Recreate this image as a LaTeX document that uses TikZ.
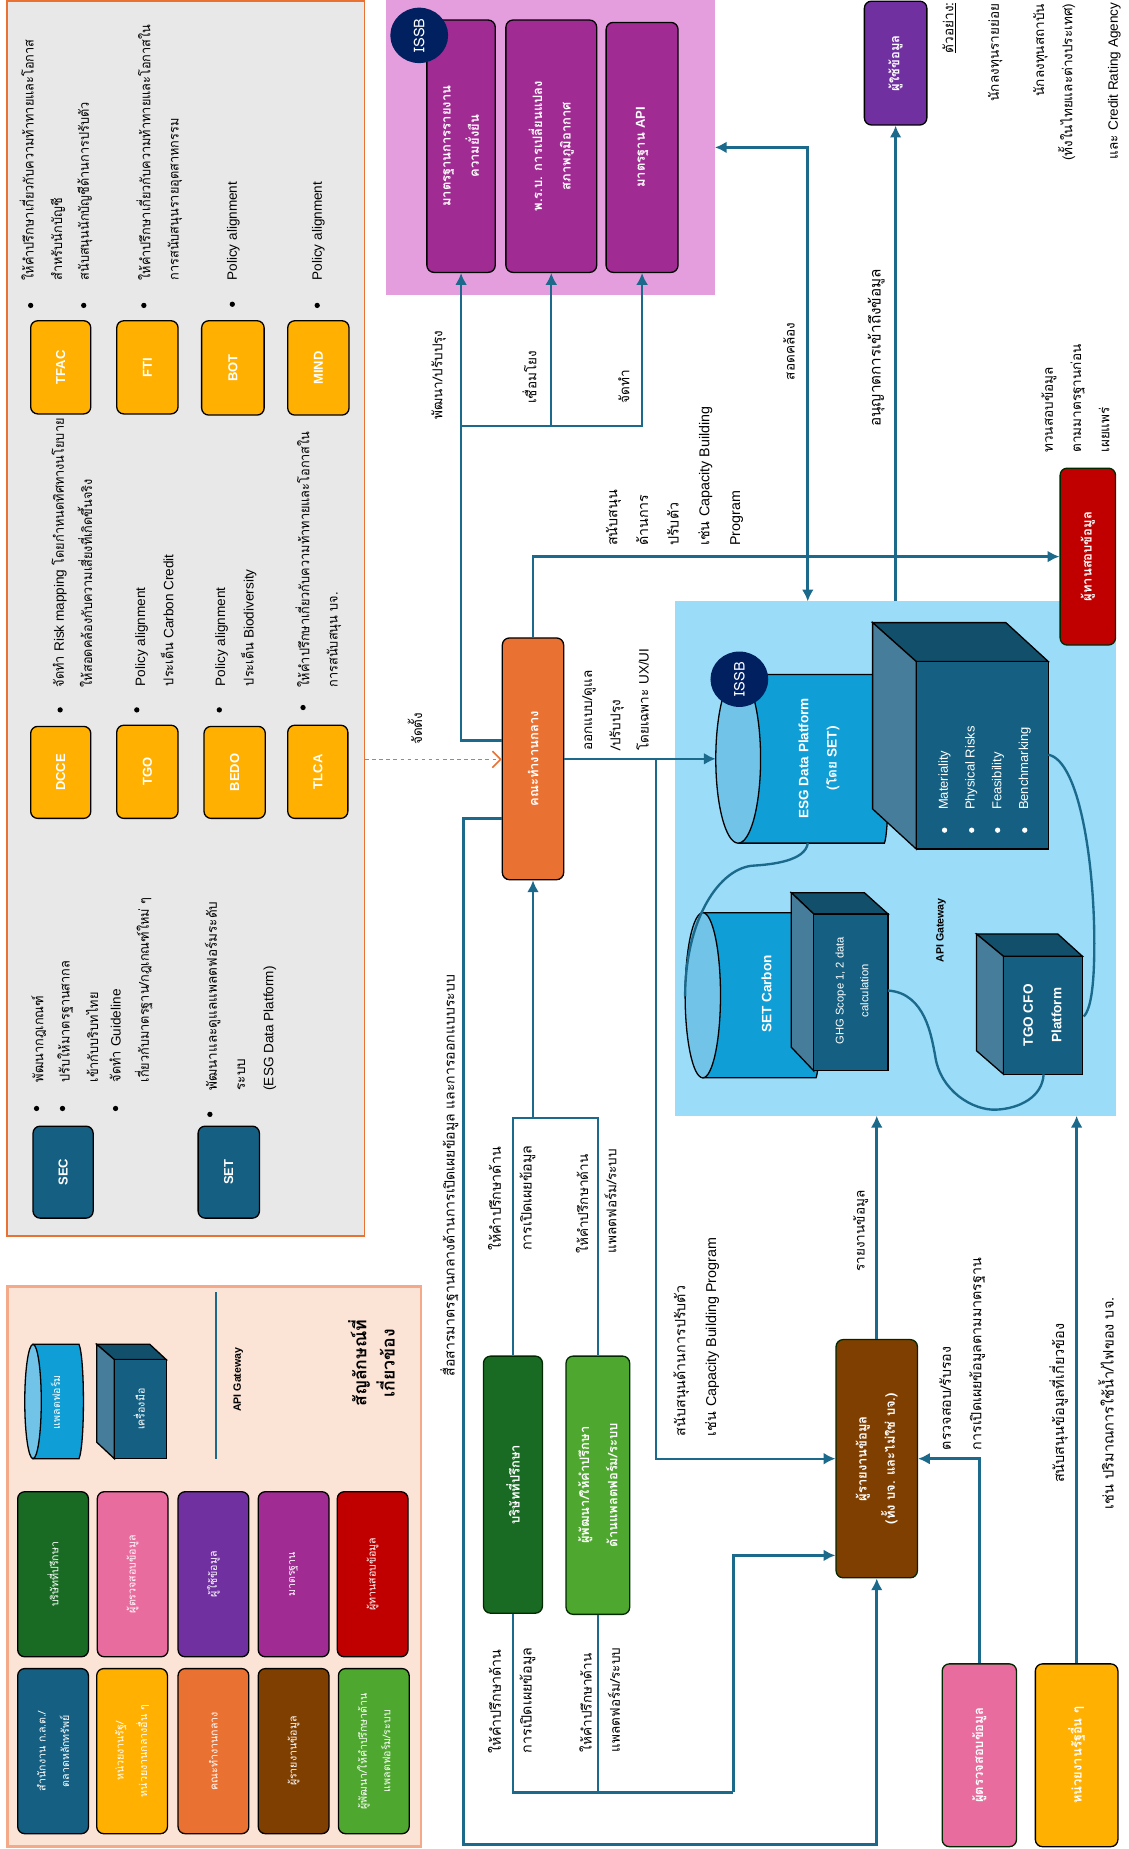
\documentclass[tikz,border=0pt]{standalone}
\usepackage{fontspec}
\setmainfont[Script=Thai]{Loma}
\newfontfamily\thn[Script=Thai,FakeStretch=0.94]{Loma}
\newfontfamily\latfont{Liberation Sans}
\newcommand{\lat}[1]{{\latfont #1}}
\usetikzlibrary{calc,arrows.meta,shapes.geometric}
\definecolor{cgold}{HTML}{FFB000}
\definecolor{cblue}{HTML}{156082}
\definecolor{corange}{HTML}{E97132}
\definecolor{cbrown}{HTML}{7F3F00}
\definecolor{clgreen}{HTML}{4EA72E}
\definecolor{cdgreen}{HTML}{196B24}
\definecolor{cpink}{HTML}{E96C9F}
\definecolor{cpurple}{HTML}{7030A0}
\definecolor{cmagenta}{HTML}{A02B93}
\definecolor{cred}{HTML}{C00000}
\definecolor{cnavy}{HTML}{002060}
\definecolor{ccyl}{HTML}{0F9ED5}
\definecolor{ccylend}{HTML}{71C4E8}
\definecolor{cside}{HTML}{467D9A}
\definecolor{ctop}{HTML}{124F6B}
\definecolor{cline}{HTML}{1B6A8C}
\definecolor{cgrey}{HTML}{E8E8E8}
\definecolor{cpeach}{HTML}{FBE3D6}
\definecolor{cpeachl}{HTML}{F4A988}
\definecolor{cpinkp}{HTML}{E49EDD}
\definecolor{cbluep}{HTML}{9BDCF9}
\tikzset{
  boxb/.style={draw=black,line width=1.1pt,rounded corners=6pt,rotate=90,inner sep=0pt,
    text=white,align=center,font=\fontsize{11}{24}\selectfont\bfseries},
  boxg/.style={boxb,draw=black!60!green!40!black},
  keyb/.style={boxb,minimum width=140pt,minimum height=60pt,
    font=\fontsize{9}{20}\selectfont},
  lab/.style={rotate=90,anchor=west,align=left,inner sep=0pt,text=black,
    font=\fontsize{11.5}{24}\selectfont},
  labs/.style={lab,font=\fontsize{11.5}{24}\selectfont\thn},
  labw/.style={lab,font=\fontsize{12.1}{26}\selectfont},
  labc/.style={lab,anchor=center,align=center},
  labr/.style={lab,anchor=east,align=right},
  lbw/.style={labc,text=white,font=\fontsize{11.5}{24}\selectfont\bfseries},
  link/.style={draw=cline,line width=2.2pt,>={Latex[length=10pt,width=10pt]}},
  linkt/.style={link,line width=1.6pt},
  curve/.style={draw=cline,line width=2pt},
  dotb/.style={circle,fill=black,inner sep=0pt,minimum size=4.5pt},
  dotw/.style={circle,fill=white,inner sep=0pt,minimum size=4.5pt},
  issb/.style={ellipse,fill=cnavy,inner sep=0pt,minimum width=49pt,minimum height=47pt,
    text=white,font=\fontsize{12.5}{14}\selectfont},
}
% side, front and back x, then the four y of a box
\newcommand{\toolbox}[8]{
  \draw[fill=ctop,line width=1.1pt] (#1,#5)--(#3,#5)--(#4,#6)--(#2,#6)--cycle;
  \draw[fill=cside,line width=1.1pt] (#1,#5)--(#2,#6)--(#2,#8)--(#1,#7)--cycle;
  \draw[fill=cblue,line width=1.1pt] (#2,#6) rectangle (#4,#8);
}
% x of end, x of far side, top y, bottom y, half width of the end
\newcommand{\platform}[5]{
  \draw[fill=ccyl,line width=1.1pt] (#1,#3)--(#2,#3)
    .. controls ($(#2,#3)+(5,12)$) and ($(#2,#4)+(5,-12)$) .. (#2,#4)--(#1,#4)--cycle;
  \draw[fill=ccylend,line width=1.1pt] (#1,{(#3+#4)/2}) ellipse [x radius=#5,y radius={(#4-#3)/2}];
}
\begin{document}
\begin{tikzpicture}[x=1pt,y=-1pt]
\useasboundingbox (0,0) rectangle (957,1568);
% panels
\node[draw=corange,line width=1.3pt,fill=cgrey,minimum width=303pt,minimum height=1047pt,inner sep=0pt] (greyp) at (157.5,524.5) {};
\node[draw=cpeachl,line width=2.5pt,fill=cpeach,minimum width=351pt,minimum height=475pt,inner sep=0pt] (keyp) at (181.5,1328.5) {};
\node[fill=cpinkp,minimum width=279pt,minimum height=250pt,inner sep=0pt] (pinkp) at (466.5,125) {};
\node[fill=cbluep,minimum width=374pt,minimum height=436pt,inner sep=0pt] (bluep) at (759,728) {};
% agencies
\node[boxb,fill=cgold,minimum width=79pt,minimum height=51pt] (tfac) at (51.5,311.5) {\lat{TFAC}};
\node[boxb,fill=cgold,minimum width=79pt,minimum height=52pt] (fti) at (125,311.5) {\lat{FTI}};
\node[boxb,fill=cgold,minimum width=80pt,minimum height=53pt] (bot) at (197.5,312) {\lat{BOT}};
\node[boxb,fill=cgold,minimum width=80pt,minimum height=52pt] (mind) at (270,312) {\lat{MIND}};
\node[boxb,fill=cgold,minimum width=78pt,minimum height=51pt] (dcce) at (51.5,655) {\lat{DCCE}};
\node[boxb,fill=cgold,minimum width=79pt,minimum height=52pt] (tgo) at (125,654.5) {\lat{TGO}};
\node[boxb,fill=cgold,minimum width=78pt,minimum height=52pt] (bedo) at (199,655) {\lat{BEDO}};
\node[boxb,fill=cgold,minimum width=79pt,minimum height=51pt] (tlca) at (269.5,654.5) {\lat{TLCA}};
\node[boxb,fill=cblue,minimum width=78pt,minimum height=51pt] (sec) at (53.5,994) {\lat{SEC}};
\node[boxb,fill=cblue,minimum width=78pt,minimum height=52pt] (set) at (194,994) {\lat{SET}};
\foreach \x/\y [count=\i] in {26/259,71/259,122/259,197/258,269/259,51/602,116/602,186/602,257/600,31/940,53/940,98/940,178/945}
  \node[dotb] (dot\i) at (\x,\y) {};
\node[labs] (t1) at (36,238) {ให้คำปรึกษาเกี่ยวกับความท้าทายและโอกาส\\สำหรับนักบัญชี};
\node[labs] (t2) at (72,238) {สนับสนุนนักบัญชีด้านการปรับตัว};
\node[labs] (t3) at (135,238) {ให้คำปรึกษาเกี่ยวกับความท้าทายและโอกาสใน\\การสนับสนุนรายอุตสาหกรรม};
\node[lab] (t4) at (198,238) {\lat{Policy alignment}};
\node[lab] (t5) at (270,238) {\lat{Policy alignment}};
\node[labs] (t6) at (61,583) {จัดทำ \lat{Risk mapping} โดยกำหนดทิศทางนโยบาย\\ให้สอดคล้องกับความเสี่ยงที่เกิดขึ้นจริง};
\node[labs] (t7) at (131,582) {\lat{Policy alignment}\\ประเด็น \lat{Carbon Credit}};
\node[labs] (t8) at (200,582) {\lat{Policy alignment}\\ประเด็น \lat{Biodiversity}};
\node[labs] (t9) at (270,583) {ให้คำปรึกษาเกี่ยวกับความท้าทายและโอกาสใน\\การสนับสนุน บจ.};
\node[labs] (t10) at (33,918) {พัฒนากฎเกณฑ์};
\node[labs] (t11) at (66,918) {ปรับให้มาตรฐานสากล\\เข้ากับบริบทไทย};
\node[labs] (t12) at (111,918) {จัดทำ \lat{Guideline}\\เกี่ยวกับมาตรฐาน/กฎเกณฑ์ใหม่ ๆ};
\node[lab] (t13) at (204,925) {พัฒนาและดูแลแพลตฟอร์มระดับ\\ระบบ\\\lat{(ESG Data Platform)}};
% key
\node[keyb,fill=cblue] (k1) at (45,1485) {สำนักงาน ก.ล.ต./\\ตลาดหลักทรัพย์};
\node[keyb,fill=cgold] (k2) at (112,1485) {หน่วยงานรัฐ/\\หน่วยงานกลางอื่น ๆ};
\node[keyb,fill=corange] (k3) at (181,1485) {คณะทำงานกลาง};
\node[keyb,fill=cbrown] (k4) at (249,1485) {ผู้รายงานข้อมูล};
\node[keyb,fill=clgreen] (k5) at (317,1485) {ผู้พัฒนา/ให้คำปรึกษาด้าน\\แพลตฟอร์ม/ระบบ};
\node[keyb,fill=cdgreen] (k6) at (45,1335) {บริษัทที่ปรึกษา};
\node[keyb,fill=cpink] (k7) at (112.5,1335) {ผู้ตรวจสอบข้อมูล};
\node[keyb,fill=cpurple] (k8) at (181,1335) {ผู้ใช้ข้อมูล};
\node[keyb,fill=cmagenta] (k9) at (249,1335) {มาตรฐาน};
\node[keyb,fill=cred] (k10) at (316,1335) {ผู้ทานสอบข้อมูล};
\platform{28}{67}{1140}{1237}{7}
\node[labc,text=white,font=\fontsize{9}{11}\selectfont] (kcyl) at (47,1189) {แพลตฟอร์ม};
\toolbox{82}{97}{127}{141}{1140}{1153}{1223}{1237}
\node[labc,text=white,font=\fontsize{9}{11}\selectfont] (kbox) at (118,1195) {เครื่องมือ};
\coordinate (kga) at (183,1096);
\coordinate (kgb) at (183,1237);
\draw[link] (kga) -- (kgb);
\node[labc,font=\fontsize{9}{11}\selectfont\bfseries] (kapi) at (202,1170) {\lat{API Gateway}};
\node[labc,font=\fontsize{15}{24}\selectfont\bfseries] (ktitle) at (315,1156) {สัญลักษณ์ที่\\เกี่ยวข้อง};
% standards
\node[boxb,fill=cmagenta,minimum width=214pt,minimum height=58pt] (std1) at (391,124) {มาตรฐานการรายงาน\\ความยั่งยืน};
\node[boxb,fill=cmagenta,minimum width=214pt,minimum height=77pt] (std2) at (467.5,124) {พ.ร.บ. การเปลี่ยนแปลง\\สภาพภูมิอากาศ};
\node[boxb,fill=cmagenta,minimum width=212pt,minimum height=61pt] (std3) at (544.5,125) {มาตรฐาน \lat{API}};
\node[issb] (issba) at (355.5,30) {\rotatebox{90}{ISSB}};
% main boxes
\node[boxb,fill=corange,minimum width=205pt,minimum height=52pt] (cent) at (452,643.5) {คณะทำงานกลาง};
\node[boxg,fill=cbrown,minimum width=202pt,minimum height=69pt] (rep) at (743.5,1237) {ผู้รายงานข้อมูล\\(ทั้ง บจ. และไม่ใช่ บจ.)};
\node[boxg,fill=cdgreen,minimum width=218pt,minimum height=50pt] (cons) at (435,1259) {บริษัทที่ปรึกษา};
\node[boxg,fill=clgreen,minimum width=219pt,minimum height=54pt] (dev) at (507,1259.5) {ผู้พัฒนา/ให้คำปรึกษา\\ด้านแพลตฟอร์ม/ระบบ};
\node[boxg,fill=cpink,minimum width=155pt,minimum height=63pt] (audit) at (830.5,1488.5) {ผู้ตรวจสอบข้อมูล};
\node[boxb,fill=cgold,minimum width=155pt,minimum height=70pt] (gov) at (913,1488.5) {หน่วยงานรัฐอื่น ๆ};
\node[boxb,fill=cpurple,minimum width=105pt,minimum height=53pt] (user) at (759.5,53.5) {ผู้ใช้ข้อมูล};
\node[boxg,fill=cred,minimum width=150pt,minimum height=47pt] (asr) at (922.5,472) {ผู้ทานสอบข้อมูล};
% platforms
\platform{626}{750}{572}{715}{19}
\toolbox{740}{777}{853}{889}{528}{561}{686}{720}
\node[issb] (issbb) at (627,576) {\rotatebox{90}{ISSB}};
\node[lbw] (esg) at (694.5,643) {\lat{ESG Data Platform}\\(โดย \lat{SET})};
\foreach \x [count=\i] in {801,824,846,869}
  \node[dotw] (wd\i) at (\x,704) {};
\node[lab,text=white,font=\fontsize{11}{22.7}\selectfont] (risk) at (835,687) {\lat{Materiality}\\\lat{Physical Risks}\\\lat{Feasibility}\\\lat{Benchmarking}};
\platform{596}{692}{774}{914}{15}
\toolbox{671}{690}{733}{753}{757}{775}{888}{908}
\node[lbw] (carb) at (650,843) {\lat{SET Carbon}};
\node[labc,text=white,font=\fontsize{9.5}{21}\selectfont] (ghg) at (722.5,840) {\lat{GHG Scope 1, 2 data}\\\lat{calculation}};
\toolbox{828}{851}{897}{918}{792}{811}{891}{911}
\node[lbw] (cfo) at (884,861) {\lat{TGO CFO}\\\lat{Platform}};
\node[labc,font=\fontsize{9}{11}\selectfont\bfseries] (papi) at (798,789) {\lat{API Gateway}};
\draw[curve] (685,715) .. controls (683,730) and (655,733) .. (640,734) .. controls (610,735) and (581,780) .. (581,845);
\draw[curve] (889,640) .. controls (915,645) and (928,730) .. (928,800) .. controls (928,830) and (926,855) .. (919,862);
\draw[curve] (753,840) .. controls (785,842) and (790,880) .. (793,895) .. controls (797,925) and (825,942) .. (845,941) .. controls (865,940) and (884,930) .. (885,911);
% connectors
\coordinate (jstd) at (391,361);
\coordinate (bend) at (393,1564);
\coordinate (jux) at (556,643.5);
\coordinate (esgin) at (607,643.5);
\coordinate (conf) at (685,510);
\coordinate (ctl) at (435,948);
\coordinate (ctr) at (507,948);
\coordinate (jtop) at (452,948);
\coordinate (jlow) at (622,1520);
\draw[link,->] (cent.north |- 0,628) -| (std1.west);
\draw[linkt,->] (jstd) -| (std2.west);
\draw[linkt,->] (jstd) -| (std3.west);
\draw[link,->] (cent.north |- 0,694) -| (bend) -| (rep.west);
\draw[corange,line width=1.3pt,dashed,-{Straight Barb[length=7pt,width=14pt]}] (greyp.east |- 0,644) -- (cent.north |- 0,644);
\draw[link,->] (cent.east) |- (asr.north);
\draw[link,->] (cent.south) -- (esgin);
\draw[linkt,->] (jux) |- (rep.north);
\draw[linkt] (cons.east) -- (ctl) -- (ctr) -- (dev.east);
\draw[link,->] (jtop) -- (cent.west);
\draw[link] (cons.west) |- (jlow);
\draw[linkt] (dev.west) -- (dev.west |- jlow);
\draw[link,line width=3pt,->] (jlow) |- (rep.north |- 0,1319);
\draw[link,->] (rep.east) -- (rep.east |- bluep.south);
\draw[link,->] (audit.east) |- (rep.south);
\draw[link,->] (gov.east) -- (gov.east |- bluep.south);
\draw[link,->] (user.west |- bluep.north) -- (user.west);
\draw[link,<->] (conf) |- (pinkp.east |- 0,125);
% labels
\node[labc] (l1) at (372,318) {พัฒนา/ปรับปรุง};
\node[labc] (l2) at (449,320) {เชื่อมโยง};
\node[labc] (l3) at (529,328) {จัดทำ};
\node[labw] (l4) at (572,463) {สนับสนุน\\ด้านการ\\ปรับตัว\\เช่น \lat{Capacity Building}\\\lat{Program}};
\node[labc] (l5) at (669,298) {สอดคล้อง};
\node[labc,font=\fontsize{13}{24}\selectfont] (l6) at (743,295) {อนุญาตการเข้าถึงข้อมูล};
\node[lab] (l7) at (912,384) {ทวนสอบข้อมูล\\ตามมาตรฐานก่อน\\เผยแพร่};
\node[labr] (l8) at (805,2) {\underline{ตัวอย่าง:}};
\node[labr] (l9) at (844,3) {นักลงทุนรายย่อย};
\node[labr] (l10) at (894,3) {นักลงทุนสถาบัน\\(ทั้งในไทยและต่างประเทศ)};
\node[labr] (l11) at (945,2) {และ \lat{Credit Rating Agency}};
\node[labc] (l12) at (352,618) {จัดตั้ง};
\node[lab] (l13) at (522,637) {ออกแบบ/ดูแล\\/ปรับปรุง\\โดยเฉพาะ \lat{UX/UI}};
\node[labc,font=\fontsize{11.9}{24}\selectfont] (l14) at (381,997) {สื่อสารมาตรฐานกลางด้านการเปิดเผยข้อมูล และการออกแบบระบบ};
\node[labw] (l15) at (434,1061) {ให้คำปรึกษาด้าน\\การเปิดเผยข้อมูล};
\node[lab] (l16) at (505.5,1063) {ให้คำปรึกษาด้าน\\แพลตฟอร์ม/ระบบ};
\node[labw] (l17) at (434,1487) {ให้คำปรึกษาด้าน\\การเปิดเผยข้อมูล};
\node[lab] (l18) at (508.5,1486) {ให้คำปรึกษาด้าน\\แพลตฟอร์ม/ระบบ};
\node[labw] (l19) at (590.5,1218) {สนับสนุนด้านการปรับตัว\\เช่น \lat{Capacity Building Program}};
\node[labc] (l20) at (730,1044) {รายงานข้อมูล};
\node[labw] (l21) at (816,1230) {ตรวจสอบ/รับรอง\\การเปิดเผยข้อมูลตามมาตรฐาน};
\node[labc,font=\fontsize{12.3}{42}\selectfont] (l22) at (917,1190) {สนับสนุนข้อมูลที่เกี่ยวข้อง\\เช่น ปริมาณการใช้น้ำ/ไฟของ บจ.};
\end{tikzpicture}
\end{document}
